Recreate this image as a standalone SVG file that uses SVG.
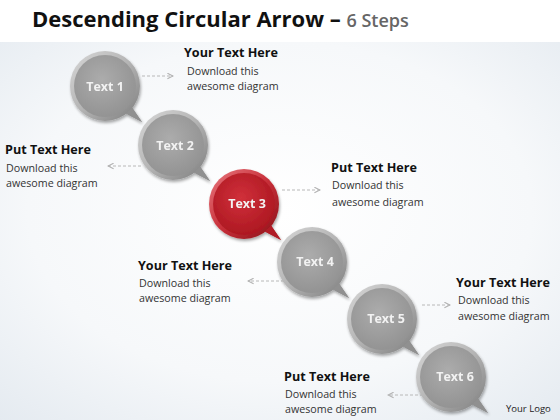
<svg xmlns="http://www.w3.org/2000/svg" xmlns:xlink="http://www.w3.org/1999/xlink" width="560" height="420" viewBox="0 0 560 420">
<defs>
<radialGradient id="bg" cx="0.5" cy="0.45" r="0.75">
<stop offset="0" stop-color="#ffffff"/>
<stop offset="0.6" stop-color="#f6f8fa"/>
<stop offset="1" stop-color="#e4eaf0"/>
</radialGradient>
<linearGradient id="rimG" x1="0" y1="0" x2="1" y2="1">
<stop offset="0" stop-color="#d8d8d8"/>
<stop offset="0.5" stop-color="#b4b4b4"/>
<stop offset="1" stop-color="#7c7c7c"/>
</linearGradient>
<radialGradient id="faceG" cx="0.45" cy="0.4" r="0.7">
<stop offset="0" stop-color="#acacac"/>
<stop offset="1" stop-color="#8f8f8f"/>
</radialGradient>
<linearGradient id="rimR" x1="0" y1="0" x2="1" y2="1">
<stop offset="0" stop-color="#e87a80"/>
<stop offset="0.5" stop-color="#c8303a"/>
<stop offset="1" stop-color="#8a1018"/>
</linearGradient>
<radialGradient id="faceR" cx="0.45" cy="0.4" r="0.7">
<stop offset="0" stop-color="#d0303a"/>
<stop offset="1" stop-color="#a8141e"/>
</radialGradient>
<filter id="sh" x="-30%" y="-30%" width="160%" height="160%">
<feGaussianBlur in="SourceAlpha" stdDeviation="1.6"/>
<feOffset dx="1" dy="2" result="b"/>
<feComponentTransfer><feFuncA type="linear" slope="0.35"/></feComponentTransfer>
<feMerge><feMergeNode/><feMergeNode in="SourceGraphic"/></feMerge>
</filter>
<g id="bubbleGray">
<path d="M 27,21.5 L 37,36 L 21,27.5 Z" fill="#8a8a8a"/>
<circle r="35" fill="url(#rimG)"/>
<circle r="31" fill="url(#faceG)"/>
<path d="M 27,21.5 L 37,36 L 21,27.5 Z" fill="#909090"/>
</g>
<g id="bubbleRed">
<path d="M 27,21.5 L 37,36 L 21,27.5 Z" fill="#a01820"/>
<circle r="35" fill="url(#rimR)"/>
<circle r="31" fill="url(#faceR)"/>
<path d="M 27,21.5 L 37,36 L 21,27.5 Z" fill="#b01c26"/>
</g>
<marker id="arr" viewBox="0 0 10 10" refX="9" refY="5" markerWidth="7" markerHeight="7" orient="auto-start-reverse">
<path d="M 1,1 L 9,5 L 1,9" fill="none" stroke="#b0b0b0" stroke-width="1.5"/>
</marker>
</defs>
<style>
.title{font-family:"Open Sans","Liberation Sans",sans-serif;font-weight:700;font-size:22px;fill:#111}
.sub{font-weight:600;font-size:18px;fill:#666}
.hd{font-family:"Open Sans","Liberation Sans",sans-serif;font-weight:700;font-size:12.6px;fill:#111}
.bd{font-family:"Open Sans","Liberation Sans",sans-serif;font-size:10.7px;fill:#333}
.nt{font-family:"Open Sans","Liberation Sans",sans-serif;font-weight:700;font-size:12.5px;fill:#f2f2f2;text-anchor:middle}
.logo{font-family:"Open Sans","Liberation Sans",sans-serif;font-size:9.5px;fill:#222}
.con{fill:none;stroke:#b8b8b8;stroke-width:1;stroke-dasharray:3 2}
</style>
<rect width="560" height="420" fill="#ffffff"/>
<rect y="42" width="560" height="378" fill="url(#bg)"/>
<text x="32" y="27" class="title">Descending Circular Arrow – <tspan class="sub">6 Steps</tspan></text>

<g id="connectors">
<line class="con" x1="142" y1="76" x2="173" y2="76" marker-end="url(#arr)"/>
<line class="con" x1="141" y1="166" x2="108" y2="166" marker-end="url(#arr)"/>
<line class="con" x1="282" y1="190" x2="320" y2="190" marker-end="url(#arr)"/>
<line class="con" x1="284" y1="281" x2="248" y2="281" marker-end="url(#arr)"/>
<line class="con" x1="422" y1="305" x2="450" y2="305" marker-end="url(#arr)"/>
<line class="con" x1="423" y1="395" x2="388" y2="395" marker-end="url(#arr)"/>
</g>

<g id="node1" transform="translate(105,86)" filter="url(#sh)">
<use href="#bubbleGray"/><text x="0" y="5" class="nt">Text 1</text>
</g>
<g id="node2" transform="translate(173,145)" filter="url(#sh)">
<use href="#bubbleGray"/><text x="2" y="5" class="nt">Text 2</text>
</g>
<g id="node3" transform="translate(244,204)" filter="url(#sh)">
<use href="#bubbleRed"/><text x="3" y="4" class="nt">Text 3</text>
</g>
<g id="node4" transform="translate(312,262)" filter="url(#sh)">
<use href="#bubbleGray"/><text x="3" y="4" class="nt">Text 4</text>
</g>
<g id="node5" transform="translate(382,319)" filter="url(#sh)">
<use href="#bubbleGray"/><text x="4" y="4" class="nt">Text 5</text>
</g>
<g id="node6" transform="translate(451,377)" filter="url(#sh)">
<use href="#bubbleGray"/><text x="4" y="4" class="nt">Text 6</text>
</g>

<g id="label1">
<text x="184" y="57" class="hd">Your Text Here</text>
<text x="187" y="75" class="bd">Download this</text>
<text x="187" y="90" class="bd">awesome diagram</text>
</g>
<g id="label2">
<text x="5" y="154" class="hd">Put Text Here</text>
<text x="6" y="172" class="bd">Download this</text>
<text x="6" y="187" class="bd">awesome diagram</text>
</g>
<g id="label3">
<text x="331" y="172" class="hd">Put Text Here</text>
<text x="332" y="189" class="bd">Download this</text>
<text x="332" y="206" class="bd">awesome diagram</text>
</g>
<g id="label4">
<text x="138" y="270" class="hd">Your Text Here</text>
<text x="139" y="287" class="bd">Download this</text>
<text x="139" y="302" class="bd">awesome diagram</text>
</g>
<g id="label5">
<text x="456" y="287" class="hd">Your Text Here</text>
<text x="458" y="304" class="bd">Download this</text>
<text x="458" y="320" class="bd">awesome diagram</text>
</g>
<g id="label6">
<text x="284" y="381" class="hd">Put Text Here</text>
<text x="285" y="398" class="bd">Download this</text>
<text x="285" y="413" class="bd">awesome diagram</text>
</g>
<text x="506" y="412" class="logo">Your Logo</text>
</svg>
